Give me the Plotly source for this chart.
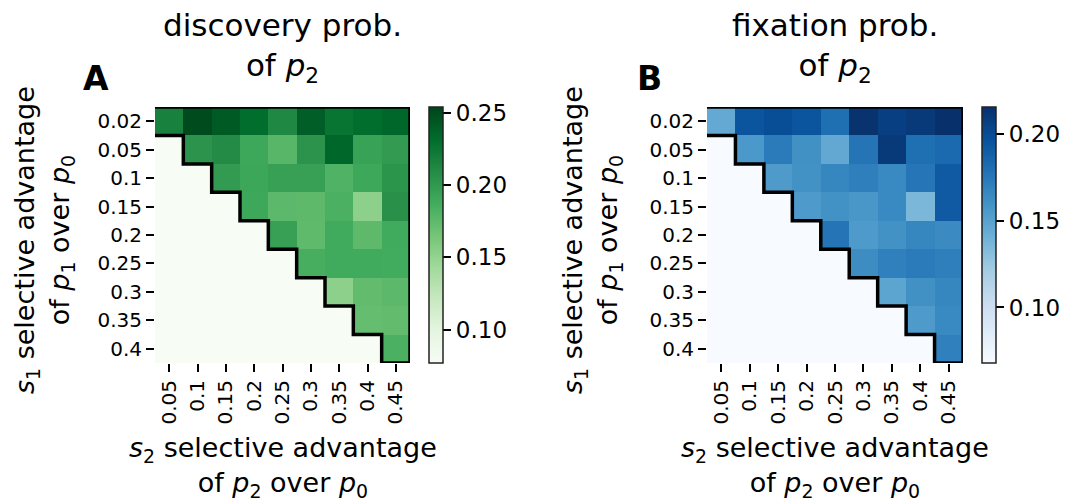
import plotly.graph_objects as go

W, H = 1090, 501

s1_labels = ["0.02", "0.05", "0.1", "0.15", "0.2", "0.25", "0.3", "0.35", "0.4"]
s2_labels = ["0.05", "0.1", "0.15", "0.2", "0.25", "0.3", "0.35", "0.4", "0.45"]

discovery = [
    [0.217, 0.250, 0.242, 0.231, 0.212, 0.240, 0.226, 0.231, 0.235],
    [None, 0.204, 0.210, 0.190, 0.178, 0.204, 0.235, 0.194, 0.199],
    [None, None, 0.199, 0.191, 0.195, 0.195, 0.181, 0.190, 0.203],
    [None, None, None, 0.190, 0.176, 0.175, 0.183, 0.153, 0.206],
    [None, None, None, None, 0.195, 0.174, 0.188, 0.175, 0.188],
    [None, None, None, None, None, 0.185, 0.188, 0.188, 0.187],
    [None, None, None, None, None, None, 0.153, 0.173, 0.176],
    [None, None, None, None, None, None, None, 0.172, 0.173],
    [None, None, None, None, None, None, None, None, 0.183],
]

fixation = [
    [0.145, 0.195, 0.199, 0.195, 0.180, 0.214, 0.207, 0.210, 0.215],
    [None, 0.156, 0.173, 0.161, 0.146, 0.177, 0.210, 0.180, 0.183],
    [None, None, 0.155, 0.160, 0.167, 0.171, 0.165, 0.176, 0.192],
    [None, None, None, 0.155, 0.160, 0.157, 0.165, 0.136, 0.192],
    [None, None, None, None, 0.177, 0.155, 0.160, 0.167, 0.164],
    [None, None, None, None, None, 0.163, 0.170, 0.173, 0.171],
    [None, None, None, None, None, None, 0.148, 0.161, 0.167],
    [None, None, None, None, None, None, None, 0.155, 0.165],
    [None, None, None, None, None, None, None, None, 0.170],
]

disc_range = (0.077, 0.254)
fix_range = (0.068, 0.2155)
disc_ticks = [0.10, 0.15, 0.20, 0.25]
fix_ticks = [0.10, 0.15, 0.20]

greens = ["#f7fcf5", "#e5f5e0", "#c7e9c0", "#a1d99b", "#74c476",
          "#41ab5d", "#238b45", "#006d2c", "#00441b"]
blues = ["#f7fbff", "#deebf7", "#c6dbef", "#9ecae1", "#6baed6",
         "#4292c6", "#2171b5", "#08519c", "#08306b"]

FONT = "DejaVu Sans"


def scale(cols):
    n = len(cols) - 1
    return [[i / n, c] for i, c in enumerate(cols)]


def fill(mat, v):
    return [[v if x is None else x for x in row] for row in mat]


def px_x(p):
    return p / W


def px_y(p):
    return 1 - p / H


fig = go.Figure()
xi = list(range(len(s2_labels)))
yi = list(range(len(s1_labels)))

panels = [
    dict(z=discovery, rng=disc_range, cs=greens, ticks=disc_ticks,
         x0=155, x1=410, cbx=429, xa="x", ya="y",
         title="discovery prob.<br>of <i>p</i><sub>2</sub>", letter="A", lx=96,
         ylab_x=44),
    dict(z=fixation, rng=fix_range, cs=blues, ticks=fix_ticks,
         x0=707, x1=963, cbx=982, xa="x2", ya="y2",
         title="fixation prob.<br>of <i>p</i><sub>2</sub>", letter="B", lx=649,
         ylab_x=592),
]

top, bot = 107, 363
annotations = []
shapes = []
for k, p in enumerate(panels):
    fig.add_trace(go.Heatmap(
        z=fill(p["z"], p["rng"][0]), x=xi, y=yi,
        colorscale=scale(p["cs"]), zmin=p["rng"][0], zmax=p["rng"][1],
        xaxis=p["xa"], yaxis=p["ya"], hoverongaps=False,
        colorbar=dict(
            x=px_x(p["cbx"]), xanchor="left", xpad=0, ypad=0,
            y=px_y((top + bot) / 2), yanchor="middle",
            len=(bot - top) / H, lenmode="fraction", thickness=14,
            outlinewidth=1.5, outlinecolor="#222",
            tickvals=p["ticks"], ticktext=[f"{t:.2f}" for t in p["ticks"]],
            ticks="outside", ticklen=8, tickwidth=1.5, tickcolor="black",
            tickfont=dict(family=FONT, size=23, color="black"),
        ),
    ))
    axname = "" if k == 0 else "2"
    fig.update_layout(**{
        f"xaxis{axname}": dict(
            domain=[px_x(p["x0"]), px_x(p["x1"])], range=[-0.5, 8.5],
            tickvals=xi, ticktext=s2_labels, tickangle=-90,
            ticks="outside", ticklen=8, tickwidth=1.5, tickcolor="black",
            tickfont=dict(family=FONT, size=20, color="black"),
            showgrid=False, zeroline=False, showline=False,
            anchor=p["ya"],
        ),
        f"yaxis{axname}": dict(
            domain=[px_y(bot), px_y(top)], range=[8.5, -0.5],
            tickvals=yi, ticktext=s1_labels,
            ticks="outside", ticklen=8, tickwidth=1.5, tickcolor="black",
            tickfont=dict(family=FONT, size=20, color="black"),
            showgrid=False, zeroline=False, showline=False,
            anchor=p["xa"],
        ),
    })
    n = len(s1_labels)
    path = "M -0.5,0.5 "
    for i in range(n - 1):
        path += f"L {i + 0.5},{i + 0.5} L {i + 0.5},{i + 1.5} "
    path += f"L {n - 0.5},{n - 0.5} L {n - 0.5},-0.5 L -0.5,-0.5"
    shapes.append(dict(type="path", path=path, xref=p["xa"], yref=p["ya"],
                       line=dict(color="black", width=3.5)))
    cx = (p["x0"] + p["x1"]) / 2
    annotations.append(dict(
        text=p["title"], x=px_x(cx), y=px_y(5), xref="paper", yref="paper",
        xanchor="center", yanchor="top", showarrow=False,
        font=dict(family=FONT, size=31, color="black")))
    annotations.append(dict(
        text=f"<b>{p['letter']}</b>", x=px_x(p["lx"]), y=px_y(78),
        xref="paper", yref="paper", xanchor="center", yanchor="middle",
        showarrow=False, font=dict(family=FONT, size=33, color="black")))
    annotations.append(dict(
        text="<i>s</i><sub>1</sub> selective advantage<br>of <i>p</i><sub>1</sub> over <i>p</i><sub>0</sub>",
        x=px_x(p["ylab_x"]), y=px_y(240), xref="paper", yref="paper",
        xanchor="center", yanchor="middle", textangle=-90, showarrow=False,
        font=dict(family=FONT, size=27, color="black")))
    annotations.append(dict(
        text="<i>s</i><sub>2</sub> selective advantage<br>of <i>p</i><sub>2</sub> over <i>p</i><sub>0</sub>",
        x=px_x(cx), y=px_y(467), xref="paper", yref="paper",
        xanchor="center", yanchor="middle", showarrow=False,
        font=dict(family=FONT, size=27, color="black")))

fig.update_layout(
    width=W, height=H, margin=dict(l=0, r=0, t=0, b=0),
    paper_bgcolor="white", plot_bgcolor="white",
    annotations=annotations, shapes=shapes, showlegend=False,
    font=dict(family=FONT, color="black"),
)

fig.write_html("out.html")
